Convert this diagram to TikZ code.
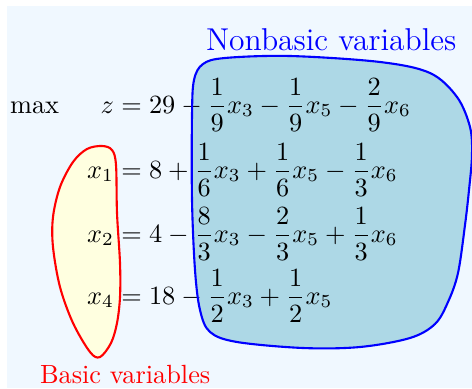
\documentclass[tikz,border=0pt]{standalone}
\usepackage{amsmath}
\definecolor{bgblue}{RGB}{240,248,255}
\definecolor{nbfill}{RGB}{173,216,230}
\definecolor{bfill}{RGB}{255,255,224}
\newcommand\myblueblob{plot[smooth cycle, tension=0.55] coordinates {(192,115) (194,80) (203,64) (225,58) (290,56) (380,62) (430,73) (457,97) (470,127) (472,155) (469,190) (465,225) (458,273) (448,302) (435,324) (410,338) (360,347) (303,348) (237,342) (210,332) (200,310) (195,270) (192,200)}}
\newcommand\myredblob{plot[smooth cycle, tension=0.55] coordinates {(102,146) (112,150) (116,165) (117,213) (120,263) (120,297) (117,323) (111,343) (100,357) (90,352) (73,323) (60,287) (53,247) (53,217) (60,187) (73,162) (87,149)}}
\begin{document}
\begin{tikzpicture}[x=0.38pt,y=-0.38pt,
  txt/.style={inner sep=0pt, outer sep=0pt},
  outline/.style={line width=0.8pt}]
\useasboundingbox (0,0) rectangle (472,388);
\fill[white] (0,0) rectangle (472,388);
\fill[bgblue] (7,6) rectangle (472,388);
% fills
\fill[nbfill] \myblueblob;
\fill[bfill] \myredblob;
% equations
\node[txt, anchor=base west] (max) at (10,113) {$\max$};
\node[txt, anchor=base east] (z) at (114,113) {$z$};
\node[txt, anchor=base west] (zr) at (114,113) {${}= 29 - \dfrac{1}{9}x_3 - \dfrac{1}{9}x_5 - \dfrac{2}{9}x_6$};
\node[txt, anchor=base east] (x1) at (114,178) {$x_1$};
\node[txt, anchor=base west] (x1r) at (114,178) {${}= 8 + \dfrac{1}{6}x_3 + \dfrac{1}{6}x_5 - \dfrac{1}{3}x_6$};
\node[txt, anchor=base east] (x2) at (114,242) {$x_2$};
\node[txt, anchor=base west] (x2r) at (114,242) {${}= 4 - \dfrac{8}{3}x_3 - \dfrac{2}{3}x_5 + \dfrac{1}{3}x_6$};
\node[txt, anchor=base east] (x4) at (114,304) {$x_4$};
\node[txt, anchor=base west] (x4r) at (114,304) {${}= 18 - \dfrac{1}{2}x_3 + \dfrac{1}{2}x_5$};
% outlines
\draw[outline, blue] \myblueblob;
\draw[outline, red] \myredblob;
% labels
\node[txt, anchor=base west, text=blue, font=\large] (nonbasic) at (206,51) {Nonbasic variables};
\node[txt, anchor=base west, text=red] (basic) at (40,383) {Basic variables};
\end{tikzpicture}
\end{document}
